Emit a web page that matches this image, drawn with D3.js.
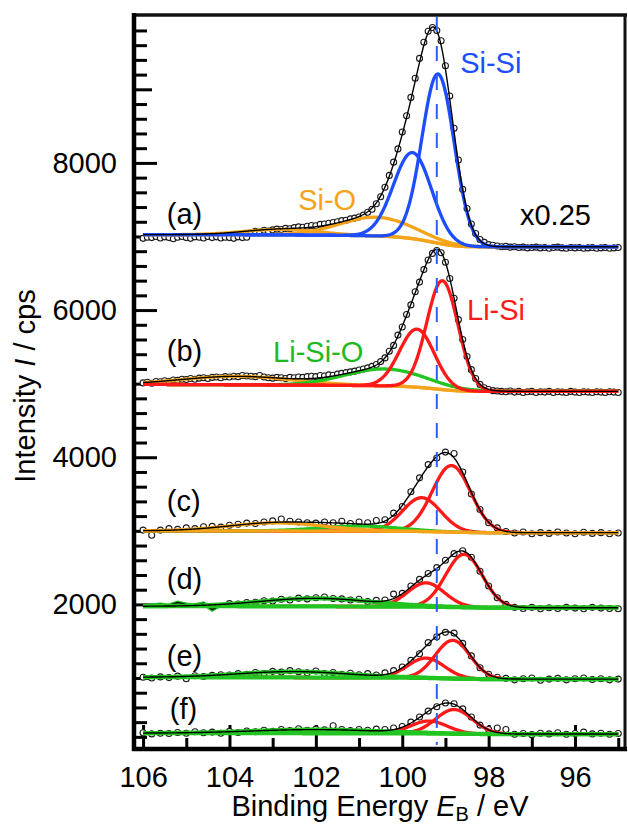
<!DOCTYPE html>
<html><head><meta charset="utf-8">
<script src="https://cdn.jsdelivr.net/npm/d3@7"></script>
<style>
body{margin:0;background:#fff}
text{font-family:"Liberation Sans",Arial,Helvetica,sans-serif}
</style>
</head><body>
<svg id="chart" width="628" height="826"></svg>
<script>
// ---------------- data ----------------
const spectrumLabels = ["(a)","(b)","(c)","(d)","(e)","(f)"];
const xTickLabels = [106,104,102,100,98,96];
const yTickLabels = [2000,4000,6000,8000];
const energyStart = 106.0;
const energySteps = [0.1,0.1,0.2,0.2,0.2,0.2];
const refEnergy = 99.2;

const dataA = [6975,6990,6985,7000,6980,6995,6985,6970,6990,7000,6985,6975,6995,6990,6980,7000,6985,6995,6980,6990,6985,6975,6995,6985,6990,
7050,7070,7060,7085,7075,7090,7100,7095,7110,7105,7120,7130,7125,7140,7150,7145,7165,7170,7180,7190,7200,7215,7220,7240,7250,7265,
7290,7330,7370,7445,7540,7670,7830,8010,8190,8420,8640,8890,9150,9420,9640,9790,9840,9800,9660,9320,8910,8470,8040,7640,7380,7170,7040,6960,6920,6890,
6880,6870,6860,6865,6855,6860,6850,6855,6845,6850,6855,6845,6850,6840,6850,6855,6845,6840,6850,6845,6850,6840,6845,6850,6840,6845,6850,6840,6845,6850];
const dataB = [5010,5020,5005,5030,5025,5040,5030,5050,5045,5060,5055,5070,5060,5075,5080,5070,5085,5090,5080,5095,5090,5100,5095,5110,5105,
5100,5095,5110,5090,5080,5075,5085,5080,5070,5085,5080,5090,5085,5095,5100,5095,5110,5105,5120,5115,5130,5140,5150,5160,5170,5185,
5200,5215,5235,5260,5300,5350,5440,5520,5660,5770,5940,6070,6250,6380,6550,6680,6770,6810,6780,6650,6430,6160,5870,5600,5370,5190,5070,4990,4945,4920,
4905,4900,4895,4890,4900,4885,4895,4880,4890,4895,4880,4890,4885,4895,4880,4890,4885,4880,4895,4885,4880,4890,4885,4880,4890,4885,4880,4890,4885,4880];
const dataC = [3010,2940,3010,3030,3020,3040,3030,3055,3060,3050,3075,3090,3105,3100,3120,3135,3160,3130,3120,3110,3105,3120,3110,3130,3100,3120,3110,3140,
3150,3240,3330,3530,3720,3900,3990,4070,4050,3800,3500,3290,3110,3040,2990,2970,2985,2960,2975,2965,2985,2970,2960,2980,2965,2975,2960,2970];
const dataD = [1975,1990,2000,1985,2025,2000,1990,2015,1930,1995,2010,2005,2025,2030,2050,2045,2070,2060,2085,2075,2090,2100,2080,2075,2060,2070,2040,2055,
2060,2140,2150,2250,2340,2420,2500,2600,2690,2730,2640,2450,2250,2090,2000,1960,1945,1960,1940,1955,1945,1960,1950,1940,1960,1950,1945,1940];
const dataE = [1010,1000,1015,1005,1025,990,1030,1020,1035,1045,1040,1060,1050,1075,1060,1090,1080,1100,1085,1070,1095,1060,1075,1050,1065,1045,1060,1040,
1070,1100,1150,1240,1330,1480,1560,1620,1610,1470,1300,1140,1050,1010,995,975,990,1000,970,985,995,975,990,1000,980,990,975,985];
const dataF = [255,240,250,245,260,250,270,255,265,250,275,260,280,270,290,275,300,285,310,290,305,295,350,300,285,300,290,305,
300,320,340,400,470,550,610,660,650,580,470,360,300,320,300,235,245,230,250,240,255,235,245,265,240,250,235,245];

// fitted components: [type, centre eV, FWHM eV, height cps]
const fitA = [["SiO",102.8,2.0,75],["SiO",100.6,2.0,255],["SiSi",99.76,1.04,1170],["SiSi",99.17,0.88,2300]];
const fitB = [["SiO",103.8,3.0,115],["LiSiO",100.4,2.2,230],["LiSi",99.66,0.95,790],["LiSi",99.07,0.85,1480]];
const fitC = [["SiO",102.9,2.6,110],["LiSiO",101.0,2.2,70],["LiSi",99.55,1.04,460],["LiSi",98.86,1.05,905]];
const fitD = [["LiSiO",102.0,3.0,110],["LiSi",99.45,1.0,325],["LiSi",98.57,1.0,720]];
const fitE = [["LiSiO",102.5,3.0,80],["LiSi",99.45,1.0,270],["LiSi",98.83,0.95,520]];
const fitF = [["LiSiO",102.0,3.5,50],["LiSi",99.38,1.0,170],["LiSi",98.8,1.0,330]];
// Shirley background end levels [high-BE side, low-BE side]
const backgrounds = [[7025,6860],[4990,4895],[3000,2975],[1975,1955],[1010,985],[250,238]];
const bgTypes = ["SiO","SiO","SiO","LiSiO","LiSiO","LiSiO"];

// annotation anchors in data units [eV, cps]
const labelAnchors = [[105.45,7170],[105.45,5308],[105.45,3269],[105.45,2209],[105.45,1163],[105.38,443]];
const peakNames = [["Si-Si","SiSi",98.66,9222],["Si-O","SiO",102.41,7360],["Li-Si","LiSi",98.5,5865],["Li-Si-O","LiSiO",102.99,5294],["x0.25","none",97.275,7156]];

// ---------------- drawing ----------------
const allData = [dataA,dataB,dataC,dataD,dataE,dataF];
const allFits = [fitA,fitB,fitC,fitD,fitE,fitF];
const COLORS = {SiO:"#f5a31a", SiSi:"#1c4dff", LiSiO:"#22c422", LiSi:"#ff1a1a", none:"#000"};
const LABEL_COLORS = {SiO:"#f5a31a", SiSi:"#1c4dff", LiSiO:"#22b822", LiSi:"#ff1a1a", none:"#000"};
const FS = 29;

const svg = d3.select("#chart");
const x = d3.scaleLinear().domain([106.21, 94.82]).range([134, 626]);
const y = d3.scaleLinear().domain([35, 10010]).range([749, 15]);

// y ticks
const minorY = d3.range(200, 9900, 200).filter(v => v % 1000 !== 0);
const medY = d3.range(1000, 10000, 2000);
function styleAxis(g){ g.select(".domain").remove(); g.selectAll(".tick line").attr("stroke","#000").attr("stroke-width",3); }
svg.append("g").attr("transform","translate(134,0)")
  .call(d3.axisLeft(y).tickValues(minorY).tickSize(-13).tickFormat("")).call(styleAxis);
svg.append("g").attr("transform","translate(134,0)")
  .call(d3.axisLeft(y).tickValues(medY).tickSize(-18).tickFormat("")).call(styleAxis);
const yAx = svg.append("g").attr("transform","translate(134,0)")
  .call(d3.axisLeft(y).tickValues(yTickLabels).tickSize(-23).tickPadding(17).tickFormat(d3.format("d"))).call(styleAxis);
yAx.selectAll("text").attr("font-size",FS).attr("fill","#000").style("font-family",'"Liberation Sans",Arial,sans-serif');

// x ticks
const minorX = d3.range(95, 107, 1).filter(v => v % 2 !== 0);
svg.append("g").attr("transform","translate(0,749)")
  .call(d3.axisBottom(x).tickValues(minorX).tickSize(-11).tickFormat("")).call(styleAxis);
const xAx = svg.append("g").attr("transform","translate(0,749)")
  .call(d3.axisBottom(x).tickValues(xTickLabels).tickSize(-24).tickPadding(17).tickFormat(d3.format("d"))).call(styleAxis);
xAx.selectAll("text").attr("font-size",FS).attr("fill","#000").style("font-family",'"Liberation Sans",Arial,sans-serif');

// frame
svg.append("line").attr("x1",132).attr("x2",627).attr("y1",15).attr("y2",15).attr("stroke","#111").attr("stroke-width",3.5);
svg.append("line").attr("x1",625).attr("x2",625).attr("y1",15).attr("y2",749).attr("stroke","#111").attr("stroke-width",3);
svg.append("line").attr("x1",134).attr("x2",134).attr("y1",13).attr("y2",751).attr("stroke","#000").attr("stroke-width",4.5);
svg.append("line").attr("x1",132).attr("x2",627).attr("y1",749).attr("y2",749).attr("stroke","#000").attr("stroke-width",4.5);

// model helpers
function erf(v){ const s=Math.sign(v); v=Math.abs(v); const t=1/(1+0.3275911*v);
  const r=1-(((((1.061405429*t-1.453152027)*t)+1.421413741)*t-0.284496736)*t+0.254829592)*t*Math.exp(-v*v); return s*r; }
const phi = z => 0.5*(1+erf(z/Math.SQRT2));
const K = 4*Math.LN2;
const comp = (E,p) => p[3]*Math.exp(-K*((E-p[1])/p[2])**2);
function shirley(E, fit, bg){ let tot=0, acc=0;
  fit.forEach(p => { const a=p[3]*p[2]; tot+=a; acc+=a*phi((E-p[1])/(p[2]/2.3548)); });
  return bg[1]+(bg[0]-bg[1])*acc/tot; }

const fineE = d3.range(0, 551).map(i => energyStart - i*0.02);
const line = d3.line().x(d => x(d[0])).y(d => y(d[1])).curve(d3.curveLinear);

allData.forEach((vals, si) => {
  const fit = allFits[si], bg = backgrounds[si];
  const g = svg.append("g");
  const pts = vals.map((v,i) => [energyStart - i*energySteps[si], v]);
  let circlePts = pts;
  const broadW = si >= 3 ? 4.2 : 3.3;
  if (si === 3) {
    const trace = pts.filter(p => p[0] >= 104.19);
    g.append("path").datum(trace).attr("d", line).attr("fill","none").attr("stroke",COLORS.LiSiO).attr("stroke-width",4);
    g.append("path").datum(trace).attr("d", line).attr("fill","none").attr("stroke","#000").attr("stroke-width",1.4);
    circlePts = pts.filter(p => p[0] < 104.19);
  }
  g.selectAll("circle").data(circlePts).join("circle")
    .attr("cx", d => x(d[0])).attr("cy", d => y(d[1])).attr("r", 3)
    .attr("fill","#fff").attr("stroke","#1a1a1a").attr("stroke-width",1.1);
  const bgCurve = fineE.map(E => [E, shirley(E, fit, bg)]);
  const drawComp = p => {
    const c = fineE.map(E => [E, shirley(E, fit, bg) + comp(E,p)]);
    const isBroad = (p[0] === "SiO" || p[0] === "LiSiO");
    g.append("path").datum(c).attr("d", line).attr("fill","none")
      .attr("stroke", COLORS[p[0]]).attr("stroke-width", isBroad ? broadW : 3.3).attr("stroke-linejoin","round");
  };
  const drawBg = () => g.append("path").datum(bgCurve).attr("d", line).attr("fill","none")
    .attr("stroke", COLORS[bgTypes[si]]).attr("stroke-width", broadW);
  if (si < 2) {
    drawBg();
    fit.forEach(drawComp);
  } else if (si === 2) {
    fit.filter(p => p[0] === "LiSi").forEach(drawComp);
    fit.filter(p => p[0] === "LiSiO").forEach(drawComp);
    drawBg();
    fit.filter(p => p[0] === "SiO").forEach(drawComp);
  } else {
    fit.filter(p => p[0] === "LiSi").forEach(drawComp);
    drawBg();
    fit.filter(p => p[0] !== "LiSi").forEach(drawComp);
  }
  const env = fineE.map(E => [E, shirley(E, fit, bg) + d3.sum(fit, p => comp(E,p))]);
  g.append("path").datum(env).attr("d", line).attr("fill","none")
    .attr("stroke","#000").attr("stroke-width",1.4);
});

// reference dashed line
svg.append("line").attr("x1",x(refEnergy)).attr("x2",x(refEnergy)).attr("y1",17).attr("y2",745)
  .attr("stroke","#2a5fff").attr("stroke-width",2).attr("stroke-dasharray","15,14");

// labels
spectrumLabels.forEach((t,i) => {
  svg.append("text").attr("x", x(labelAnchors[i][0])).attr("y", y(labelAnchors[i][1]))
    .attr("font-size",FS).attr("fill","#000").text(t);
});
peakNames.forEach(p => {
  svg.append("text").attr("x", x(p[2])).attr("y", y(p[3]))
    .attr("font-size",FS).attr("fill",LABEL_COLORS[p[1]]).text(p[0]);
});

// axis titles
const xt = svg.append("text").attr("x",380).attr("y",816).attr("text-anchor","middle").attr("font-size",FS).attr("fill","#000");
xt.append("tspan").text("Binding Energy ");
xt.append("tspan").attr("font-style","italic").text("E");
xt.append("tspan").attr("font-size",20).attr("dy",5).text("B");
xt.append("tspan").attr("dy",-5).text(" / eV");
const yt = svg.append("text").attr("transform","translate(35,386) rotate(-90)").attr("text-anchor","middle").attr("font-size",FS).attr("fill","#000");
yt.append("tspan").text("Intensity ");
yt.append("tspan").attr("font-style","italic").text("I");
yt.append("tspan").text(" / cps");
</script>
</body></html>
